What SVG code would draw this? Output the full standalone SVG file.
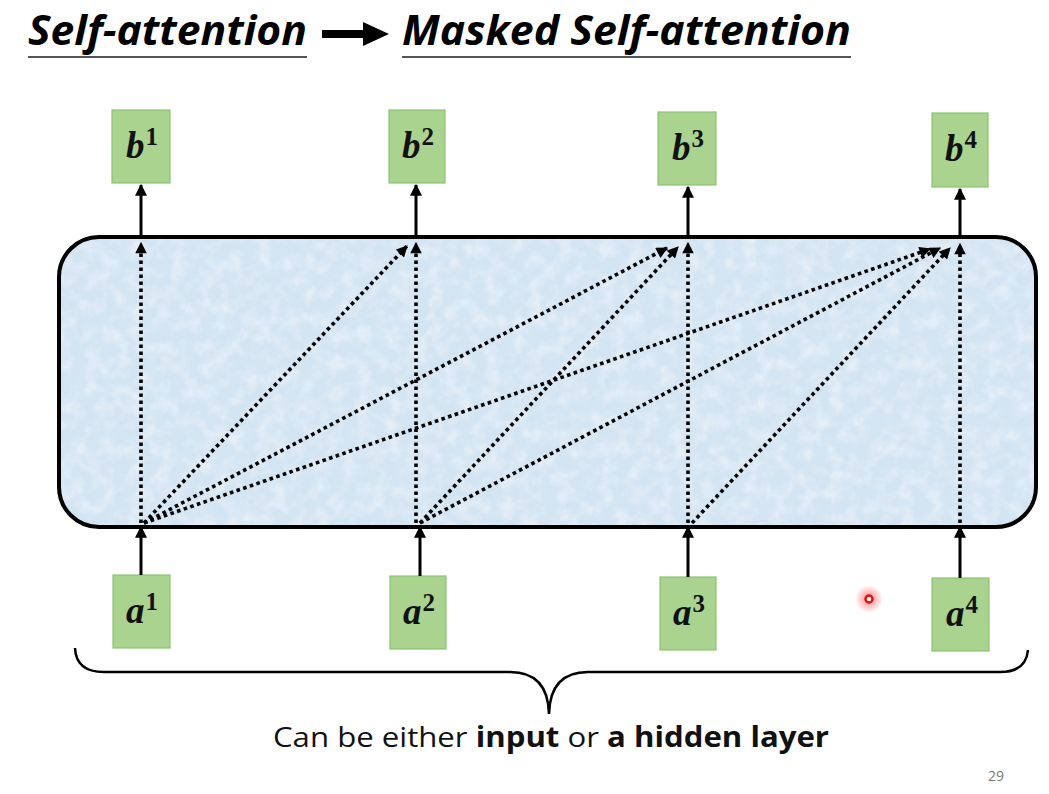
<svg xmlns="http://www.w3.org/2000/svg" width="1049" height="794" viewBox="0 0 1049 794">
  <defs>
    <style>
      .title { font-family: "Open Sans", "Liberation Sans", sans-serif; font-weight: bold; font-style: italic; font-size: 42px; fill: #000; }
      .uline { stroke: #555; stroke-width: 2; }
      .box { fill: #a9d38f; stroke: #8cc472; stroke-width: 1.2; }
      .lbl { font-family: "Liberation Serif", "DejaVu Serif", serif; font-weight: bold; font-style: italic; font-size: 37px; fill: #111; }
      .sup { font-style: normal; font-size: 25px; }
      .solid { stroke: #000; stroke-width: 3; fill: none; marker-end: url(#head); }
      .dot { stroke: #000; stroke-width: 3.6; stroke-dasharray: 3.6 3.4; fill: none; marker-end: url(#dhead); }
      .cap { font-family: "Open Sans", "Liberation Sans", sans-serif; font-size: 28px; fill: #111; }
    </style>
    <marker id="head" viewBox="0 0 10 10" refX="9" refY="5" markerWidth="4.2" markerHeight="4" markerUnits="strokeWidth" orient="auto">
      <path d="M0,0 L10,5 L0,10 Z" fill="#000"/>
    </marker>
    <marker id="dhead" viewBox="0 0 10 10" refX="9" refY="5" markerWidth="3.6" markerHeight="3.2" markerUnits="strokeWidth" orient="auto">
      <path d="M0,0 L10,5 L0,10 Z" fill="#000"/>
    </marker>
    <filter id="paper" x="0" y="0" width="100%" height="100%">
      <feTurbulence type="fractalNoise" baseFrequency="0.07" numOctaves="3" seed="7" result="n"/>
      <feColorMatrix in="n" type="matrix" values="0 0 0 0 1  0 0 0 0 1  0 0 0 0 1  0 0 0 0.8 -0.3" result="w"/>
      <feComposite in="w" in2="SourceGraphic" operator="in" result="wm"/>
      <feMerge><feMergeNode in="SourceGraphic"/><feMergeNode in="wm"/></feMerge>
    </filter>
    <radialGradient id="glow">
      <stop offset="0" stop-color="#ff2020" stop-opacity="0.6"/>
      <stop offset="0.5" stop-color="#ff3030" stop-opacity="0.3"/>
      <stop offset="1" stop-color="#ff2020" stop-opacity="0"/>
    </radialGradient>
  </defs>

  <rect width="1049" height="794" fill="#fff"/>

  <!-- heading -->
  <g id="heading">
    <text class="title" x="28" y="45" textLength="279" lengthAdjust="spacingAndGlyphs">Self-attention</text>
    <line class="uline" x1="28" y1="57" x2="307" y2="57"/>
    <path d="M322,30 L363,30 L363,22 L389,34 L363,46 L363,38 L322,38 Z" fill="#000"/>
    <text class="title" x="402" y="45" textLength="449" lengthAdjust="spacingAndGlyphs">Masked Self-attention</text>
    <line class="uline" x1="402" y1="57" x2="851" y2="57"/>
  </g>

  <!-- attention layer block -->
  <g id="layer">
    <rect x="59" y="237" width="977" height="290" rx="40" ry="40" fill="#d3e4f3" filter="url(#paper)"/>
    <rect x="59" y="237" width="977" height="290" rx="40" ry="40" fill="none" stroke="#000" stroke-width="4"/>
  </g>

  <!-- outputs -->
  <g id="b1"><rect class="box" x="112" y="110" width="58" height="73"/><text class="lbl" x="142" y="158" text-anchor="middle">b<tspan class="sup" dx="1" dy="-13">1</tspan></text></g>
  <g id="b2"><rect class="box" x="389" y="110" width="56" height="73"/><text class="lbl" x="418" y="158" text-anchor="middle">b<tspan class="sup" dx="1" dy="-13">2</tspan></text></g>
  <g id="b3"><rect class="box" x="658" y="112" width="58" height="73"/><text class="lbl" x="688" y="160" text-anchor="middle">b<tspan class="sup" dx="1" dy="-13">3</tspan></text></g>
  <g id="b4"><rect class="box" x="932" y="113" width="56" height="74"/><text class="lbl" x="961" y="161" text-anchor="middle">b<tspan class="sup" dx="1" dy="-13">4</tspan></text></g>

  <!-- inputs -->
  <g id="a1"><rect class="box" x="113" y="575" width="57" height="73"/><text class="lbl" x="142" y="623" text-anchor="middle">a<tspan class="sup" dx="1" dy="-13">1</tspan></text></g>
  <g id="a2"><rect class="box" x="390" y="576" width="56" height="73"/><text class="lbl" x="419" y="624" text-anchor="middle">a<tspan class="sup" dx="1" dy="-13">2</tspan></text></g>
  <g id="a3"><rect class="box" x="660" y="577" width="56" height="73"/><text class="lbl" x="689" y="625" text-anchor="middle">a<tspan class="sup" dx="1" dy="-13">3</tspan></text></g>
  <g id="a4"><rect class="box" x="932" y="578" width="57" height="73"/><text class="lbl" x="962" y="626" text-anchor="middle">a<tspan class="sup" dx="1" dy="-13">4</tspan></text></g>

  <!-- connectors -->
  <g id="connectors">
    <!-- layer to outputs -->
    <line class="solid" x1="141" y1="235" x2="141" y2="185"/>
    <line class="solid" x1="416" y1="235" x2="416" y2="185"/>
    <line class="solid" x1="688" y1="235" x2="688" y2="187"/>
    <line class="solid" x1="960" y1="235" x2="960" y2="189"/>
    <!-- inputs to layer -->
    <line class="solid" x1="141" y1="575" x2="141" y2="527"/>
    <line class="solid" x1="420" y1="576" x2="420" y2="527"/>
    <line class="solid" x1="688" y1="577" x2="688" y2="527"/>
    <line class="solid" x1="960" y1="578" x2="960" y2="527"/>
    <!-- masked attention: each position attends to itself and earlier ones -->
    <line class="dot" x1="141" y1="523" x2="141" y2="243"/>
    <line class="dot" x1="416" y1="523" x2="416" y2="243"/>
    <line class="dot" x1="688" y1="523" x2="688" y2="243"/>
    <line class="dot" x1="960" y1="523" x2="960" y2="244"/>
    <line class="dot" x1="144" y1="523" x2="407" y2="246"/>
    <line class="dot" x1="144" y1="523" x2="667" y2="248"/>
    <line class="dot" x1="144" y1="523" x2="930" y2="249"/>
    <line class="dot" x1="420" y1="523" x2="678" y2="247"/>
    <line class="dot" x1="420" y1="523" x2="940" y2="248"/>
    <line class="dot" x1="692" y1="523" x2="950" y2="248"/>
  </g>

  <!-- laser pointer spot -->
  <g id="pointer">
    <circle cx="869" cy="599" r="14" fill="url(#glow)"/>
    <circle cx="869" cy="599" r="3.5" fill="#fff" stroke="#e01010" stroke-width="2.4"/>
  </g>

  <!-- brace and caption -->
  <g id="brace">
    <path d="M75,648 Q76,672 104,672 L510,672 Q548,672 549,714 Q550,672 588,672 L1000,672 Q1026,672 1028,650" fill="none" stroke="#000" stroke-width="2.5"/>
    <text class="cap" x="273" y="747" textLength="556" lengthAdjust="spacingAndGlyphs">Can be either <tspan font-weight="bold">input</tspan> or <tspan font-weight="bold">a hidden layer</tspan></text>
  </g>

  <text x="988" y="781" font-family="Open Sans, Liberation Sans, sans-serif" font-size="14" fill="#777">29</text>
</svg>
